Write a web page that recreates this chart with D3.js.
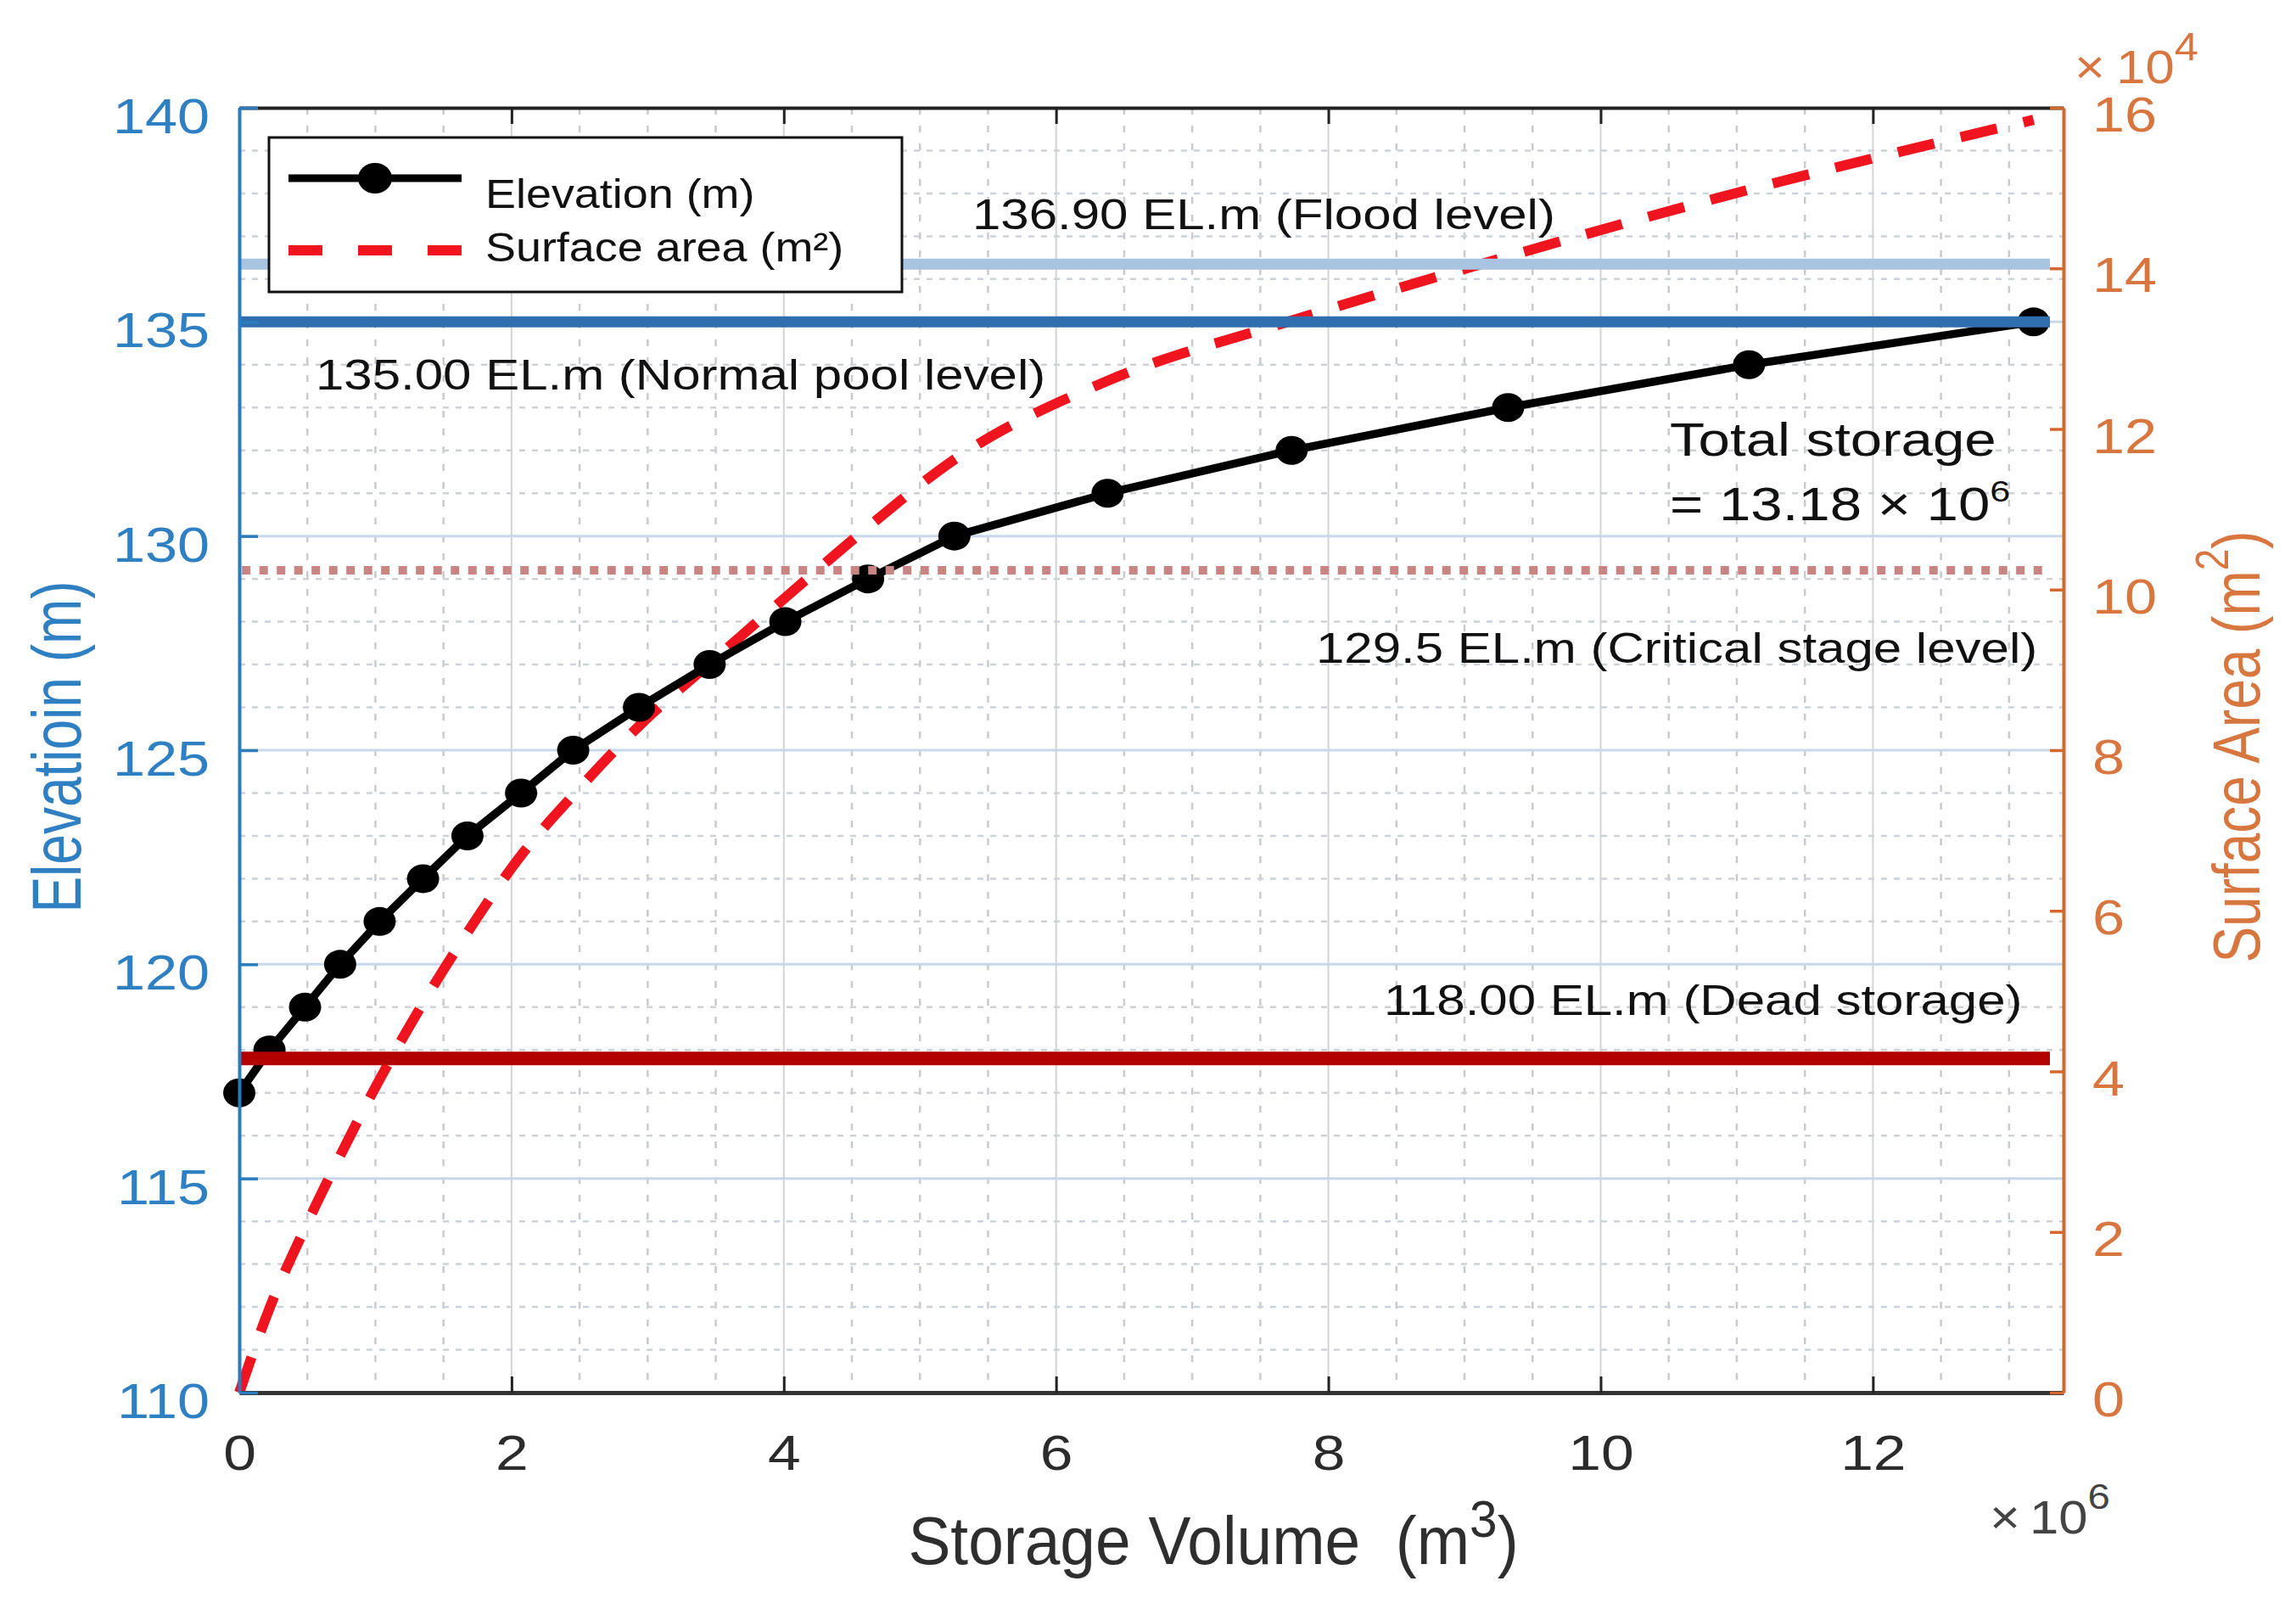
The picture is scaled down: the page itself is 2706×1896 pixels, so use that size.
<!DOCTYPE html>
<html>
<head>
<meta charset="utf-8">
<script src="https://cdn.jsdelivr.net/npm/d3@7"></script>
<style>
  html, body { margin: 0; padding: 0; background: #fff; }
  text { white-space: pre; }
</style>
</head>
<body>
<div id="chart"></div>
<script>
// ---- data ----
const storageVolume = [0, 0.222, 0.483, 0.741, 1.031, 1.350, 1.676, 2.070, 2.453, 2.936,
                       3.455, 4.011, 4.619, 5.253, 6.378, 7.730, 9.320, 11.090, 13.180]; // x 10^6 m3
const elevation = [117, 118, 119, 120, 121, 122, 123, 124, 125, 126,
                   127, 128, 129, 130, 131, 132, 133, 134, 135]; // m
const surfaceArea = [0, 1.05, 2.05, 2.95, 3.9, 4.85, 5.73, 6.69, 7.44, 8.3,
                     9.08, 9.9, 10.78, 11.62, 12.6, 13.35, 14.15, 14.98, 15.85]; // x 10^4 m2

const xTicks = [0, 2, 4, 6, 8, 10, 12];
const leftTicks = [110, 115, 120, 125, 130, 135, 140];
const rightTicks = [0, 2, 4, 6, 8, 10, 12, 14, 16];

// horizontal reference levels, at the height they are drawn in the figure
const levelDrawn = [136.35, 135.0, 129.2, 117.8];
const levelLabels = ["136.90 EL.m (Flood level)", "135.00 EL.m (Normal pool level)",
                     "129.5 EL.m (Critical stage level)", "118.00 EL.m (Dead storage)"];
const levelEnd = 13.3;

const width = 2706, height = 1896;
const FONT = "'Liberation Sans', Arial, Helvetica, sans-serif";
const SX = 1.2; // the source figure is stretched sideways
const blue = "#2b7bbd", blueText = "#2e80c2";
const orange = "#d4672d", orangeText = "#d8763f";

const svg = d3.select("#chart").append("svg")
  .attr("width", width)
  .attr("height", height)
  .style("font-family", FONT);

svg.append("rect").attr("width", width).attr("height", height).attr("fill", "#fff");

const x = d3.scaleLinear().domain([0, 13.4]).range([282, 2432]);
const yL = d3.scaleLinear().domain([110, 140]).range([1641, 127]);
const yR = d3.scaleLinear().domain([0, 16]).range([1641, 127]);

// text helper: parts = [{t, sup, size, dx}]
function addText(parent, px, py, o) {
  let tr = `translate(${px},${py})`;
  if (o.rotate) tr += ` rotate(${o.rotate})`;
  tr += ` scale(${o.sx == null ? SX : o.sx},${o.sy == null ? 1 : o.sy})`;
  const t = parent.append("text")
    .attr("transform", tr)
    .attr("font-size", o.size)
    .attr("fill", o.color || "#111")
    .attr("text-anchor", o.anchor || "start");
  let raised = 0;
  (o.parts || [{t: o.text}]).forEach(p => {
    const s = t.append("tspan").text(p.t);
    let dy = 0;
    if (p.sup) { dy = -p.raise - raised; raised = p.raise; s.attr("font-size", p.size); }
    else if (raised) { dy = raised; raised = 0; }
    if (dy) s.attr("dy", dy);
    if (p.dx) s.attr("dx", p.dx);
  });
  return t;
}

// ---- grid ----
const grid = svg.append("g");
const xMinor = d3.range(0.5, 13.4, 0.5).filter(v => v % 2 !== 0);
grid.selectAll(".vminor").data(xMinor).enter().append("line")
  .attr("x1", d => x(d)).attr("x2", d => x(d))
  .attr("y1", yL(140)).attr("y2", yL(110))
  .attr("stroke", "#cacaca").attr("stroke-width", 2.5).attr("stroke-dasharray", "8 13");
grid.selectAll(".vmajor").data(xTicks.slice(1)).enter().append("line")
  .attr("x1", d => x(d)).attr("x2", d => x(d))
  .attr("y1", yL(140)).attr("y2", yL(110))
  .attr("stroke", "#d4d4d4").attr("stroke-width", 2);
const yMinor = d3.range(111, 140).filter(v => v % 5 !== 0);
grid.selectAll(".hminor").data(yMinor).enter().append("line")
  .attr("x1", x(0)).attr("x2", x(13.4))
  .attr("y1", d => yL(d)).attr("y2", d => yL(d))
  .attr("stroke", "#cdd1d8").attr("stroke-width", 2.5).attr("stroke-dasharray", "7 8");
grid.selectAll(".hmajor").data(leftTicks.slice(1, -1)).enter().append("line")
  .attr("x1", x(0)).attr("x2", x(13.4))
  .attr("y1", d => yL(d)).attr("y2", d => yL(d))
  .attr("stroke", "#c6d8e9").attr("stroke-width", 3);

// ---- surface area curve (right axis) ----
const areaPts = storageVolume.map((v, i) => [v, surfaceArea[i]]);
svg.append("path")
  .datum(areaPts)
  .attr("fill", "none")
  .attr("stroke", "#f0141e")
  .attr("stroke-width", 12)
  .attr("stroke-dasharray", "44 32")
  .attr("d", d3.line().curve(d3.curveMonotoneX).x(d => x(d[0])).y(d => yR(d[1])));

// ---- elevation curve (left axis) ----
const elevPts = storageVolume.map((v, i) => [v, elevation[i]]);
svg.append("path")
  .datum(elevPts)
  .attr("fill", "none")
  .attr("stroke", "#000")
  .attr("stroke-width", 9.5)
  .attr("stroke-linejoin", "round")
  .attr("d", d3.line().x(d => x(d[0])).y(d => yL(d[1])));
svg.selectAll(".pt").data(elevPts).enter().append("ellipse")
  .attr("cx", d => x(d[0])).attr("cy", d => yL(d[1]))
  .attr("rx", 19).attr("ry", 17)
  .attr("fill", "#000");

// ---- reference levels ----
const levelStyle = [
  {stroke: "#a8c4e0", w: 13, dash: null},
  {stroke: "#2f6fb0", w: 13, dash: null},
  {stroke: "#c98484", w: 10, dash: "10 10.5"},
  {stroke: "#b30000", w: 16, dash: null}
];
svg.selectAll(".level").data(levelDrawn).enter().append("line")
  .attr("x1", (d, i) => i === 2 ? x(0.02) : x(0))
  .attr("x2", x(levelEnd))
  .attr("y1", d => yL(d)).attr("y2", d => yL(d))
  .attr("stroke", (d, i) => levelStyle[i].stroke)
  .attr("stroke-width", (d, i) => levelStyle[i].w)
  .attr("stroke-dasharray", (d, i) => levelStyle[i].dash);

// ---- axes ----
const bottomAxis = d3.axisBottom(x).tickValues(xTicks).tickSizeInner(-19).tickSizeOuter(0).tickFormat(d3.format("d"));
svg.append("g")
  .attr("transform", `translate(0,${yL(110)})`)
  .call(bottomAxis)
  .call(g => {
    g.select(".domain").attr("stroke", "#333").attr("stroke-width", 5);
    g.selectAll(".tick line").attr("stroke", "#222").attr("stroke-width", 3);
    g.selectAll("text")
      .attr("y", null).attr("dy", null)
      .attr("transform", `translate(0,91) scale(${SX},1)`)
      .attr("font-size", 58).attr("font-family", FONT).attr("fill", "#2b2b2b");
  });

const topAxis = d3.axisTop(x).tickValues(xTicks).tickSizeInner(-19).tickSizeOuter(0).tickFormat("");
svg.append("g")
  .attr("transform", `translate(0,${yL(140)})`)
  .call(topAxis)
  .call(g => {
    g.select(".domain").attr("stroke", "#222").attr("stroke-width", 4);
    g.selectAll(".tick line").attr("stroke", "#222").attr("stroke-width", 3);
  });

const leftAxis = d3.axisLeft(yL).tickValues(leftTicks).tickSizeInner(-22).tickSizeOuter(0).tickPadding(35);
svg.append("g")
  .attr("transform", `translate(${x(0)},0)`)
  .call(leftAxis)
  .call(g => {
    g.select(".domain").attr("stroke", blue).attr("stroke-width", 4);
    g.selectAll(".tick line").attr("stroke", blue).attr("stroke-width", 3.5);
    g.selectAll("text")
      .attr("x", null).attr("dy", null)
      .attr("transform", `translate(-35,29.5) scale(${SX},1)`)
      .attr("font-size", 57).attr("font-family", FONT).attr("fill", blueText);
  });

const rightAxis = d3.axisRight(yR).tickValues(rightTicks).tickSizeInner(-16).tickSizeOuter(0).tickPadding(34);
svg.append("g")
  .attr("transform", `translate(${x(13.4)},0)`)
  .call(rightAxis)
  .call(g => {
    g.select(".domain").attr("stroke", orange).attr("stroke-width", 4);
    g.selectAll(".tick line").attr("stroke", orange).attr("stroke-width", 3.5);
    g.selectAll("text")
      .attr("x", null).attr("dy", null)
      .attr("transform", `translate(34,27.5) scale(${SX},1)`)
      .attr("font-size", 57).attr("font-family", FONT).attr("fill", orangeText);
  });

// exponent labels
addText(svg, 2445, 98, {size: 56, sx: 1.1, color: orangeText,
  parts: [{t: "×"}, {t: "10", dx: 12}, {t: "4", sup: true, size: 46, raise: 27}]});
addText(svg, 2345, 1807, {size: 56, sx: 1.1, color: "#444",
  parts: [{t: "×"}, {t: "10", dx: 10}, {t: "6", sup: true, size: 43, raise: 29}]});

// axis titles
addText(svg, 95, 880, {size: 64, rotate: -90, sx: 1, sy: 1.28, anchor: "middle", color: blueText,
  text: "Elevatioin (m)"});
addText(svg, 2663, 880, {size: 64, rotate: -90, sx: 1, sy: 1.22, anchor: "middle", color: orangeText,
  parts: [{t: "Surface Area (m"}, {t: "2", sup: true, size: 46, raise: 30}, {t: ")"}]});
addText(svg, 1430, 1843, {size: 64, sx: 1.17, sy: 1.24, anchor: "middle", color: "#2e2e2e",
  parts: [{t: "Storage Volume  (m"}, {t: "3", sup: true, size: 50, raise: 26}, {t: ")"}]});

// ---- legend ----
const legend = svg.append("g");
legend.append("rect")
  .attr("x", 317).attr("y", 162).attr("width", 746).attr("height", 182)
  .attr("fill", "#fff").attr("stroke", "#111").attr("stroke-width", 3);
legend.append("line")
  .attr("x1", 340).attr("x2", 544).attr("y1", 210).attr("y2", 210)
  .attr("stroke", "#000").attr("stroke-width", 9);
legend.append("ellipse")
  .attr("cx", 442).attr("cy", 210).attr("rx", 20).attr("ry", 18).attr("fill", "#000");
legend.append("line")
  .attr("x1", 340).attr("x2", 544).attr("y1", 295).attr("y2", 295)
  .attr("stroke", "#f0141e").attr("stroke-width", 12).attr("stroke-dasharray", "40 42");
addText(legend, 572, 245, {size: 49, sx: 1.1, text: "Elevation (m)"});
addText(legend, 572, 308, {size: 49, sx: 1.1, text: "Surface area (m²)"});

// ---- annotations ----
const ann = svg.append("g");
addText(ann, 1146, 270, {size: 50, text: levelLabels[0]});
addText(ann, 372, 459, {size: 50, text: levelLabels[1]});
addText(ann, 1551, 781, {size: 50, text: levelLabels[2]});
addText(ann, 1631, 1196, {size: 50, text: levelLabels[3]});
addText(ann, 1968, 537, {size: 56, text: "Total storage"});
addText(ann, 1968, 613, {size: 56,
  parts: [{t: "= " + d3.format(".2f")(storageVolume[storageVolume.length - 1]) + " × 10"},
          {t: "6", sup: true, size: 36, raise: 22}]});
</script>
</body>
</html>
